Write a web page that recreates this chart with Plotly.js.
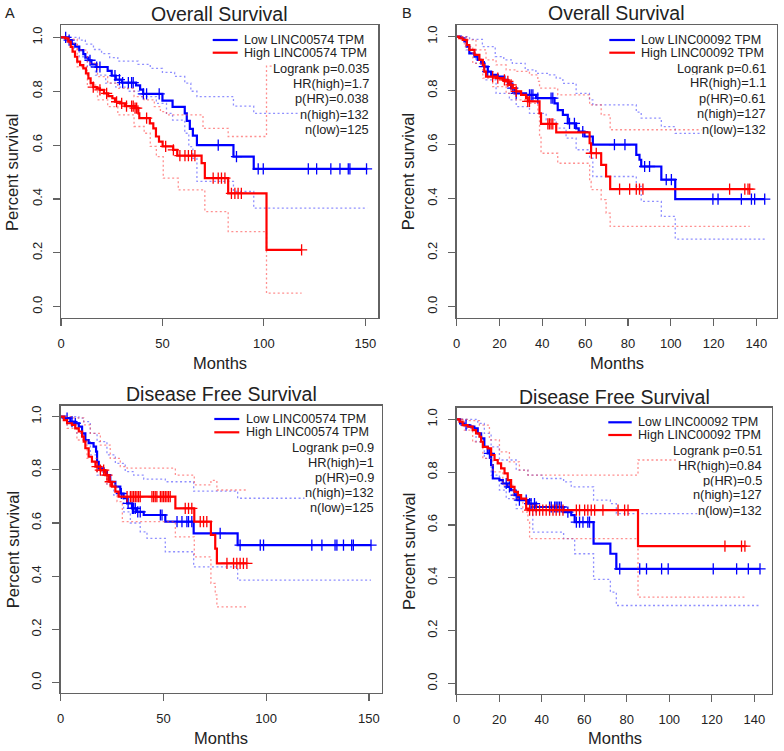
<!DOCTYPE html>
<html>
<head>
<meta charset="utf-8">
<script src="https://cdn.plot.ly/plotly-3.0.1.min.js"></script>
<style>html,body{margin:0;padding:0;background:#fff}#chart{width:784px;height:751px}</style>
</head>
<body>
<div id="chart"></div>
<script>
// ---------- Panel A: Overall Survival, LINC00574 ----------
const A_lowT = [0, 3.6, 5.3, 7, 9, 11, 12, 13.5, 15, 17.5, 23, 25, 27, 30, 37, 39, 40.5, 50, 55, 61, 62, 63.5, 65, 67, 85, 95, 151];
const A_lowS = [1, 0.99, 0.976, 0.966, 0.953, 0.938, 0.925, 0.915, 0.9, 0.89, 0.876, 0.858, 0.843, 0.832, 0.822, 0.806, 0.79, 0.765, 0.742, 0.718, 0.69, 0.66, 0.635, 0.6, 0.557, 0.512, 0.512];
const A_lowCens = [2.3, 4, 14.3, 17.6, 19.2, 26.6, 28.8, 30.4, 33.2, 34.8, 35.6, 40.6, 42.2, 48.4, 77.5, 86.5, 97.2, 99.7, 121.9, 126, 133, 137.5, 141.6, 142.4, 150.6];
const A_lowUpT = [0, 9, 12, 16, 20, 24, 28, 38, 44, 50, 56, 61, 64, 67, 85, 95, 151];
const A_lowUp  = [1, 0.99, 0.975, 0.955, 0.94, 0.925, 0.912, 0.9, 0.885, 0.87, 0.855, 0.83, 0.8, 0.78, 0.745, 0.718, 0.718];
const A_lowLoT = [0, 3, 6, 9, 13, 17, 22, 27, 33, 39, 47, 52, 55, 61, 63, 65, 67, 85, 95, 151];
const A_lowLo  = [1, 0.984, 0.96, 0.928, 0.891, 0.86, 0.83, 0.815, 0.8, 0.78, 0.755, 0.718, 0.693, 0.644, 0.594, 0.551, 0.465, 0.428, 0.366, 0.366];
const A_highT = [0, 2, 3.6, 4.8, 5.7, 6.9, 8, 9.4, 11, 12.3, 13.5, 14.6, 15.9, 17.6, 19.2, 21.2, 23.3, 25.3, 26.6, 29.1, 31.5, 36.5, 38.1, 38.6, 43.8, 45.5, 46.8, 48.3, 50.1, 55.3, 57.3, 69.3, 70.9, 82.4, 101.3, 118.6];
const A_highS = [1, 0.996, 0.984, 0.965, 0.947, 0.928, 0.91, 0.897, 0.885, 0.866, 0.848, 0.83, 0.815, 0.811, 0.805, 0.792, 0.782, 0.774, 0.761, 0.755, 0.745, 0.737, 0.718, 0.7, 0.681, 0.662, 0.632, 0.613, 0.595, 0.582, 0.561, 0.533, 0.477, 0.421, 0.211, 0.211];
const A_highCens = [15.9, 19.2, 22.5, 27.4, 29.9, 32.3, 34.8, 35.6, 36.5, 37.3, 42.2, 51.6, 55.4, 58.6, 61.1, 62.8, 64.4, 66, 75, 77.5, 79.1, 80.8, 84, 85.7, 87.3, 88.9, 118.6];
const A_highUpT = [0, 3, 8, 13, 18, 23, 28, 36, 41, 46, 49, 52, 70, 82.4, 101.3, 118.6];
const A_highUp  = [1, 0.993, 0.953, 0.904, 0.854, 0.83, 0.811, 0.78, 0.768, 0.743, 0.724, 0.712, 0.662, 0.632, 0.893, 0.893];
const A_highLoT = [0, 3, 8, 13, 18, 23, 28, 36, 41, 44, 47, 50.4, 57.8, 70.9, 82.4, 101.3, 118.6];
const A_highLo  = [1, 0.978, 0.891, 0.823, 0.768, 0.743, 0.712, 0.669, 0.644, 0.595, 0.557, 0.477, 0.434, 0.353, 0.279, 0.05, 0.05];

// ---------- Panel B: Overall Survival, LINC00092 ----------
const B_lowT = [0, 2, 3.6, 4.7, 5.9, 8.3, 9.8, 11.4, 12.9, 14.5, 16.1, 19.2, 22.3, 23.9, 25.4, 27, 32.4, 37.1, 45.7, 47.2, 49.6, 51.9, 55.8, 57, 59.7, 63.6, 83.9, 85.4, 86.2, 95.6, 102.1, 143.9];
const B_lowS = [1, 0.994, 0.982, 0.963, 0.938, 0.926, 0.914, 0.901, 0.889, 0.87, 0.858, 0.852, 0.84, 0.827, 0.809, 0.79, 0.784, 0.772, 0.753, 0.728, 0.71, 0.679, 0.66, 0.648, 0.63, 0.6, 0.562, 0.544, 0.519, 0.47, 0.398, 0.398];
const B_lowCens = [12.9, 14.5, 26.2, 27.8, 34, 34.8, 35.6, 37.9, 44.1, 44.9, 52.7, 55, 58.9, 73.7, 78.6, 87.8, 90.1, 97.9, 100.3, 119.7, 122.1, 133, 137.7, 139.2, 143.9];
const B_lowUpT = [0, 6, 12, 18, 22, 26, 32, 37, 43, 46.5, 49.6, 55.8, 62, 63.6, 83.9, 86.2, 95.6, 102.1, 143.9];
const B_lowUp  = [1, 0.99, 0.963, 0.926, 0.914, 0.901, 0.877, 0.864, 0.858, 0.846, 0.827, 0.79, 0.766, 0.747, 0.72, 0.698, 0.667, 0.642, 0.642];
const B_lowLoT = [0, 4.4, 9, 13.7, 18.4, 24.6, 27.8, 34, 41.8, 46.5, 51.1, 55.8, 62.1, 63.6, 83.9, 86.2, 95.6, 102.1, 143.9];
const B_lowLo  = [1, 0.951, 0.901, 0.84, 0.79, 0.766, 0.741, 0.716, 0.692, 0.661, 0.624, 0.581, 0.55, 0.482, 0.445, 0.39, 0.334, 0.25, 0.25];
const B_highT = [0, 1.2, 2.8, 4.7, 5.9, 8.3, 10.6, 12.2, 12.9, 13.7, 18.4, 21.5, 23.1, 24.6, 26.2, 27.8, 30.1, 32.4, 33.2, 38.7, 39.4, 46.5, 62.1, 62.8, 67.5, 69.8, 71.7, 136.9];
const B_highS = [1, 0.994, 0.988, 0.969, 0.951, 0.932, 0.914, 0.895, 0.87, 0.852, 0.846, 0.84, 0.834, 0.821, 0.809, 0.797, 0.784, 0.772, 0.76, 0.716, 0.677, 0.645, 0.605, 0.568, 0.525, 0.482, 0.435, 0.435];
const B_highCens = [16.8, 19.2, 22.3, 23.9, 25.4, 27.8, 33.2, 34, 42.6, 43.3, 44.1, 44.9, 62.9, 65.2, 76.1, 80.8, 83.9, 85.4, 87, 127.5, 134.6, 136.1, 136.9];
const B_highUpT = [0, 4.4, 9, 13.7, 18.4, 23.1, 27.8, 34, 37.9, 38.7, 47.2, 62.1, 67.5, 71.7, 136.9];
const B_highUp  = [1, 0.988, 0.951, 0.914, 0.895, 0.877, 0.871, 0.858, 0.834, 0.809, 0.784, 0.747, 0.71, 0.655, 0.655];
const B_highLoT = [0, 3.6, 7.5, 12.2, 16.8, 23.1, 27.8, 34, 37.9, 38.7, 39.4, 47.2, 62.1, 62.8, 67.5, 69.8, 71.7, 136.9];
const B_highLo  = [1, 0.963, 0.901, 0.846, 0.815, 0.79, 0.766, 0.753, 0.716, 0.63, 0.568, 0.531, 0.464, 0.433, 0.396, 0.346, 0.297, 0.297];

// ---------- Panel C: Disease Free Survival, LINC00574 ----------
const C_lowT = [0, 2.3, 4.7, 7.1, 8.8, 10.4, 12, 13.6, 16, 17.2, 17.7, 18.5, 20.9, 22.5, 24.1, 26.6, 29, 30.6, 32.3, 34.7, 37.1, 40.4, 50.9, 64.7, 86.1, 151];
const C_lowS = [1, 0.994, 0.981, 0.975, 0.962, 0.937, 0.912, 0.9, 0.887, 0.868, 0.83, 0.805, 0.793, 0.78, 0.755, 0.737, 0.711, 0.693, 0.674, 0.655, 0.642, 0.63, 0.605, 0.561, 0.517, 0.517];
const C_lowCens = [3.1, 5.5, 7.1, 29.5, 32.8, 34.9, 35.5, 36.3, 37.5, 38.7, 48.5, 49.3, 56.6, 59, 61.4, 62.2, 63.8, 77.6, 87.3, 97.1, 98.7, 122.2, 127.1, 133.5, 134.4, 137.6, 141.6, 142.4, 151];
const C_lowUpT = [0, 8.8, 11.2, 14.4, 17.7, 22.5, 26.6, 31.4, 35.5, 40.4, 50.9, 64.7, 86.1, 151];
const C_lowUp  = [1, 0.994, 0.981, 0.937, 0.906, 0.856, 0.824, 0.793, 0.78, 0.765, 0.755, 0.72, 0.693, 0.693];
const C_lowLoT = [0, 3.1, 7.9, 11.2, 14.4, 17.7, 22.5, 25.8, 30.6, 33.9, 38.7, 42, 50.9, 64.7, 86.1, 151];
const C_lowLo  = [1, 0.969, 0.937, 0.906, 0.856, 0.78, 0.743, 0.705, 0.642, 0.6, 0.567, 0.542, 0.492, 0.435, 0.385, 0.385];
const C_highT = [0, 1.5, 3.1, 5.5, 7.1, 8.8, 10.4, 11.2, 12, 13.6, 15.2, 16.9, 19.3, 21.7, 23.3, 25, 26.6, 28.2, 55.8, 65, 73.1, 75.2, 76, 90.6];
const C_highS = [1, 0.987, 0.975, 0.969, 0.956, 0.944, 0.925, 0.906, 0.881, 0.849, 0.831, 0.812, 0.799, 0.78, 0.755, 0.737, 0.718, 0.699, 0.655, 0.605, 0.555, 0.504, 0.448, 0.448];
const C_highCens = [17.7, 19.3, 20.9, 22.5, 24.1, 32.3, 33.9, 34.7, 35.5, 36.3, 37.1, 37.9, 38.7, 44.4, 45.2, 46, 46.8, 48.5, 49.3, 50.1, 50.9, 51.7, 52.5, 53.3, 60.6, 62.2, 63.8, 67.9, 69.5, 71.1, 80.9, 84.1, 85.7, 87.3, 88.9, 90.6];
const C_highUpT = [0, 6.3, 11.2, 14.4, 19.3, 24.1, 29, 32.3, 55.8, 65, 73.1, 76, 90.6];
const C_highUp  = [1, 0.995, 0.969, 0.937, 0.893, 0.843, 0.812, 0.806, 0.78, 0.743, 0.76, 0.724, 0.724];
const C_highLoT = [0, 3.1, 7.9, 12.8, 17.7, 22.5, 27.4, 30, 55.8, 65, 73.1, 75.2, 76, 90.6];
const C_highLo  = [1, 0.956, 0.912, 0.843, 0.793, 0.743, 0.68, 0.605, 0.548, 0.473, 0.373, 0.33, 0.285, 0.285];

// ---------- Panel D: Disease Free Survival, LINC00092 ----------
const D_lowT = [0, 1.6, 3.6, 6, 8.3, 9.9, 11.5, 13, 14.6, 16.2, 17, 20.1, 21.7, 24, 25.6, 27.2, 28.8, 33.5, 37.4, 50.3, 53.9, 55.5, 64.4, 72.3, 75.1, 142.7];
const D_lowS = [1, 0.985, 0.978, 0.972, 0.966, 0.947, 0.928, 0.896, 0.871, 0.827, 0.776, 0.77, 0.757, 0.744, 0.732, 0.713, 0.694, 0.681, 0.668, 0.649, 0.637, 0.611, 0.529, 0.491, 0.434, 0.434];
const D_lowCens = [4.4, 15.4, 23.3, 24.8, 28, 29.5, 32.7, 34.3, 35, 36.6, 37.4, 43.7, 44.5, 46.1, 46.8, 47.6, 48.4, 49.2, 52.3, 56.3, 57.8, 59.4, 61.7, 62.5, 76.7, 86.1, 89.3, 96.4, 99.5, 120.7, 131.7, 137.2, 142.7];
const D_lowUpT = [0, 9.9, 13, 16.2, 20.1, 28, 33.5, 40.5, 50.3, 53.9, 64.4, 72.3, 75.1, 142.7];
const D_lowUp  = [1, 0.985, 0.947, 0.896, 0.846, 0.808, 0.789, 0.776, 0.763, 0.744, 0.694, 0.681, 0.643, 0.643];
const D_lowLoT = [0, 4.4, 9.1, 13, 16.2, 20.1, 23.3, 28, 35.8, 50.3, 55.5, 64.4, 72.3, 75.1, 142.7];
const D_lowLo  = [1, 0.966, 0.915, 0.852, 0.789, 0.732, 0.7, 0.662, 0.573, 0.548, 0.491, 0.394, 0.346, 0.295, 0.295];
const D_highT = [0, 1.3, 2.8, 5.2, 7.5, 9.1, 10.7, 11.5, 12.3, 14.6, 16.2, 17.8, 19.3, 20.9, 22.5, 24, 25.6, 27.2, 28.8, 30.3, 32.7, 33.5, 85.3, 135.6];
const D_highS = [1, 0.991, 0.978, 0.972, 0.959, 0.947, 0.934, 0.915, 0.896, 0.89, 0.865, 0.846, 0.833, 0.814, 0.795, 0.77, 0.744, 0.725, 0.713, 0.7, 0.662, 0.656, 0.52, 0.52];
const D_highCens = [34.3, 35.8, 37.4, 39, 40.5, 42.1, 43.7, 45.3, 46.8, 48.4, 50, 56.3, 57.8, 60.2, 61.7, 63.3, 64.9, 68.8, 75.9, 79, 80.6, 126.2, 134, 135.6];
const D_highUpT = [0, 6, 10.7, 15.4, 20.1, 24.8, 29.5, 33.5, 85.3, 135.6];
const D_highUp  = [1, 0.995, 0.978, 0.922, 0.877, 0.839, 0.808, 0.789, 0.846, 0.846];
const D_highLoT = [0, 3.6, 7.5, 12.3, 17, 21.7, 26.4, 31.1, 33.5, 34.3, 85.3, 135.6];
const D_highLo  = [1, 0.959, 0.915, 0.852, 0.801, 0.751, 0.7, 0.649, 0.611, 0.548, 0.327, 0.327];

// ---------- Text ----------
const panelTitles = ["Overall Survival", "Overall Survival", "Disease Free Survival", "Disease Free Survival"];
const legendLow  = ["Low LINC00574 TPM", "Low LINC00092 TPM", "Low LINC00574 TPM", "Low LINC00092 TPM"];
const legendHigh = ["High LINC00574 TPM", "High LINC00092 TPM", "High LINC00574 TPM", "High LINC00092 TPM"];
const statsA = ["Logrank p=0.035", "HR(high)=1.7", "p(HR)=0.038", "n(high)=132", "n(low)=125"];
const statsB = ["Logrank p=0.61", "HR(high)=1.1", "p(HR)=0.61", "n(high)=127", "n(low)=132"];
const statsC = ["Logrank p=0.9", "HR(high)=1", "p(HR)=0.9", "n(high)=132", "n(low)=125"];
const statsD = ["Logrank p=0.51", "HR(high)=0.84", "p(HR)=0.5", "n(high)=127", "n(low)=132"];
const xTicksA = [0, 50, 100, 150];
const xTicksB = [0, 20, 40, 60, 80, 100, 120, 140];
const yTicks = [0, 0.2, 0.4, 0.6, 0.8, 1.0];
const panelLetters = ["A", "B"];

// ---------- Build ----------
const W = 784, H = 751;
const px = v => v / W;
const py = v => 1 - v / H;
const FONT = "Liberation Sans, Arial, sans-serif";
const BLUE = "#0000ff", RED = "#ff0000";
const LBLUE = "rgba(70,70,255,0.6)", LRED = "rgba(255,70,70,0.6)";

function stepAt(T, S, t) {
  let k = 0;
  for (let i = 0; i < T.length; i++) if (T[i] <= t) k = i;
  return S[k];
}

const panels = [
  {low:[A_lowT,A_lowS,A_lowCens,A_lowUpT,A_lowUp,A_lowLoT,A_lowLo], high:[A_highT,A_highS,A_highCens,A_highUpT,A_highUp,A_highLoT,A_highLo],
   stats:statsA, ticks:xTicksA, box:[61,378.3,25,317.7], xr:[0,156.4], yr:[-0.041,1.046],
   title:[219.7,13.7], months:[219.7,362.7], ylab:[12.7,172.3], leg:[212.7,237.7,242.7,40,52.7], statR:370, statY:[68.3,83.3,98.7,114.3,129.3]},
  {low:[B_lowT,B_lowS,B_lowCens,B_lowUpT,B_lowUp,B_lowLoT,B_lowLo], high:[B_highT,B_highS,B_highCens,B_highUpT,B_highUp,B_highLoT,B_highLo],
   stats:statsB, ticks:xTicksB, box:[456.7,776.7,25,317.7], xr:[0,149.5], yr:[-0.041,1.043],
   title:[616.7,13.3], months:[616.7,362.7], ylab:[408.3,172], leg:[609.3,635,640,40,52.7], statR:767.3, statY:[68.3,82.7,98.3,113.3,129]},
  {low:[C_lowT,C_lowS,C_lowCens,C_lowUpT,C_lowUp,C_lowLoT,C_lowLo], high:[C_highT,C_highS,C_highCens,C_highUpT,C_highUp,C_highLoT,C_highLo],
   stats:statsC, ticks:xTicksA, box:[60.7,381.7,405.7,692.7], xr:[0,156.2], yr:[-0.038,1.041],
   title:[221.2,394], months:[221.2,737.7], ylab:[12.7,549.5], leg:[214.3,239.3,245,419,432.3], statR:375, statY:[447.3,462.3,477.3,492.3,507.7]},
  {low:[D_lowT,D_lowS,D_lowCens,D_lowUpT,D_lowUp,D_lowLoT,D_lowLo], high:[D_highT,D_highS,D_highCens,D_highUpT,D_highUp,D_highLoT,D_highLo],
   stats:statsD, ticks:xTicksB, box:[456.7,771.7,407.7,694], xr:[0,148.2], yr:[-0.04,1.044],
   title:[614.2,397], months:[614.5,737.7], ylab:[408.3,551.7], leg:[608.3,631.7,637.3,422.3,435], statR:762.7, statY:[450,465,480,494.3,510]}
];

const traces = [];
const layout = {
  width: W, height: H, margin: {l:0, r:0, t:0, b:0},
  paper_bgcolor: "#fff", plot_bgcolor: "#fff", showlegend: false,
  font: {family: FONT, color: "#222"},
  annotations: [], shapes: []
};

panels.forEach((p, i) => {
  const n = i === 0 ? "" : String(i + 1);
  const xa = "x" + n, ya = "y" + n;
  const addGroup = (g, col, lcol, name) => {
    const [T, S, C, UT, U, LT, L] = g;
    traces.push({x: UT, y: U, xaxis: xa, yaxis: ya, mode: "lines", line: {shape: "hv", color: lcol, width: 1.3, dash: "2px,2.5px"}, hoverinfo: "skip", name: name + " upper CI"});
    traces.push({x: LT, y: L, xaxis: xa, yaxis: ya, mode: "lines", line: {shape: "hv", color: lcol, width: 1.3, dash: "2px,2.5px"}, hoverinfo: "skip", name: name + " lower CI"});
    traces.push({x: T, y: S, xaxis: xa, yaxis: ya, mode: "lines", line: {shape: "hv", color: col, width: 2.2}, name: name});
    traces.push({x: C, y: C.map(t => stepAt(T, S, t)), xaxis: xa, yaxis: ya, mode: "markers",
      marker: {symbol: "cross-thin", size: 8, line: {color: col, width: 1.3}}, name: name + " censored"});
  };
  addGroup(p.low, BLUE, LBLUE, legendLow[i]);
  addGroup(p.high, RED, LRED, legendHigh[i]);

  const axCommon = {showline: true, mirror: true, linecolor: "#626262", linewidth: 1.3,
    ticks: "outside", ticklen: 7, tickwidth: 1.2, tickcolor: "#626262",
    showgrid: false, zeroline: false, fixedrange: true,
    tickfont: {family: FONT, size: 13, color: "#222"}};
  layout["xaxis" + n] = Object.assign({}, axCommon, {
    domain: [px(p.box[0]), px(p.box[1])], range: p.xr, anchor: ya,
    tickmode: "array", tickvals: p.ticks, ticktext: p.ticks.map(String), ticklabelstandoff: 6});
  layout["yaxis" + n] = Object.assign({}, axCommon, {
    domain: [py(p.box[3]), py(p.box[2])], range: p.yr, anchor: xa,
    tickmode: "array", tickvals: yTicks, ticktext: yTicks.map(v => v.toFixed(1)), tickangle: -90, ticklabelstandoff: 6});

  const A = layout.annotations;
  A.push({text: panelTitles[i], xref: "paper", yref: "paper", x: px(p.title[0]), y: py(p.title[1]), xanchor: "center", yanchor: "middle", showarrow: false, font: {size: 19.5, family: FONT, color: "#222"}});
  A.push({text: "Months", xref: "paper", yref: "paper", x: px(p.months[0]), y: py(p.months[1]), xanchor: "center", yanchor: "middle", showarrow: false, font: {size: 16.5, family: FONT, color: "#222"}});
  A.push({text: "Percent survival", xref: "paper", yref: "paper", x: px(p.ylab[0]), y: py(p.ylab[1]), xanchor: "center", yanchor: "middle", textangle: -90, showarrow: false, font: {size: 16.5, family: FONT, color: "#222"}});
  // legend
  const [lx0, lx1, tx, yl, yh] = p.leg;
  A.push({text: legendLow[i], xref: "paper", yref: "paper", x: px(tx), y: py(yl), xanchor: "left", yanchor: "middle", showarrow: false, bgcolor: "#fff", borderpad: 0, font: {size: 12.6, family: FONT, color: "#222"}});
  A.push({text: legendHigh[i], xref: "paper", yref: "paper", x: px(tx), y: py(yh), xanchor: "left", yanchor: "middle", showarrow: false, bgcolor: "#fff", borderpad: 0, font: {size: 12.6, family: FONT, color: "#222"}});
  layout.shapes.push({type: "line", xref: "paper", yref: "paper", x0: px(lx0), x1: px(lx1), y0: py(yl), y1: py(yl), line: {color: BLUE, width: 2.2}});
  layout.shapes.push({type: "line", xref: "paper", yref: "paper", x0: px(lx0), x1: px(lx1), y0: py(yh), y1: py(yh), line: {color: RED, width: 2.2}});
  p.stats.forEach((s, k) => {
    A.push({text: s, xref: "paper", yref: "paper", x: px(p.statR), y: py(p.statY[k]), xanchor: "right", yanchor: "middle", showarrow: false, bgcolor: "#fff", borderpad: 0, font: {size: 12.8, family: FONT, color: "#222"}});
  });
});

layout.annotations.push({text: panelLetters[0], xref: "paper", yref: "paper", x: px(10), y: py(13.3), xanchor: "center", yanchor: "middle", showarrow: false, font: {size: 14.5, family: FONT, color: "#222"}});
layout.annotations.push({text: panelLetters[1], xref: "paper", yref: "paper", x: px(407.3), y: py(13.3), xanchor: "center", yanchor: "middle", showarrow: false, font: {size: 14.5, family: FONT, color: "#222"}});

Plotly.newPlot("chart", traces, layout, {displayModeBar: false, staticPlot: true});
</script>
</body>
</html>
